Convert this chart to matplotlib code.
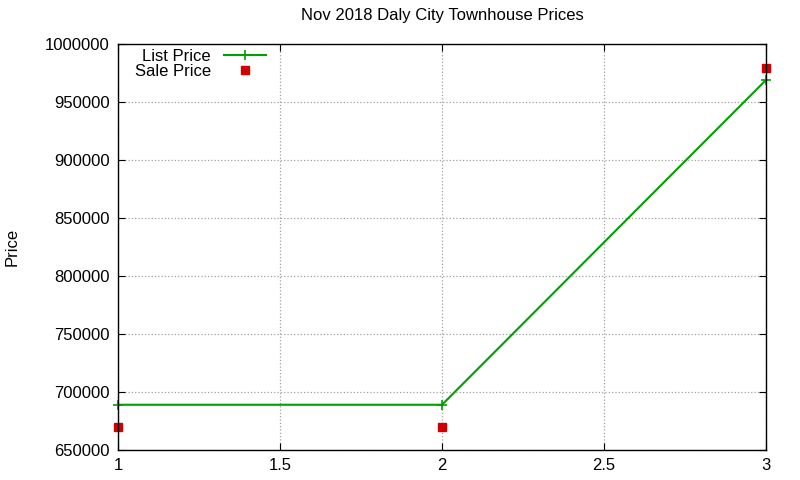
import matplotlib
matplotlib.use("Agg")
import matplotlib.pyplot as plt

plt.rcParams['font.family'] = ['Liberation Sans', 'DejaVu Sans']

x = [1, 2, 3]
list_price = [689000, 689000, 969000]
sale_price = [670000, 670000, 979000]
yticks = [650000, 700000, 750000, 800000, 850000, 900000, 950000, 1000000]
xticks = [1, 1.5, 2, 2.5, 3]
xticklabels = ["1", "1.5", "2", "2.5", "3"]

fig = plt.figure(figsize=(8, 4.8), dpi=100)
ax = fig.add_axes([0.1475, 0.0625, 0.81, 0.8458])
ax.plot(x, list_price, color='#00a000', lw=1.5, marker='+', ms=7, mew=1.2, label='List Price', clip_on=False)
ax.plot(x, sale_price, ls='none', color='#d00000', marker='s', ms=6, label='Sale Price', clip_on=False)
ax.set_xlim(1, 3)
ax.set_ylim(650000, 1000000)
ax.set_xticks(xticks)
ax.set_xticklabels(xticklabels)
ax.set_yticks(yticks)
ax.set_yticklabels([str(v) for v in yticks])
ax.tick_params(direction='in', top=True, right=True, labelsize=12, length=5, pad=6)
ax.grid(True, color='#a0a0a0', ls=':', lw=0.9)
for s in ax.spines.values():
    s.set_linewidth(1.0)
fig.text(12/800, 1 - 247/480, 'Price', fontsize=12, rotation=90, ha='center', va='center')
ax.set_title('Nov 2018 Daly City Townhouse Prices', fontsize=12, pad=17)
leg = ax.legend(loc='upper left', bbox_to_anchor=(0.005, 1.02), frameon=False, markerfirst=False,
                fontsize=12, handlelength=2.5, labelspacing=0.0, borderpad=0.3, handletextpad=0.8)
for t in leg.get_texts():
    t.set_ha('right')
leg._legend_box.align = 'right'
fig.savefig('out.png')
